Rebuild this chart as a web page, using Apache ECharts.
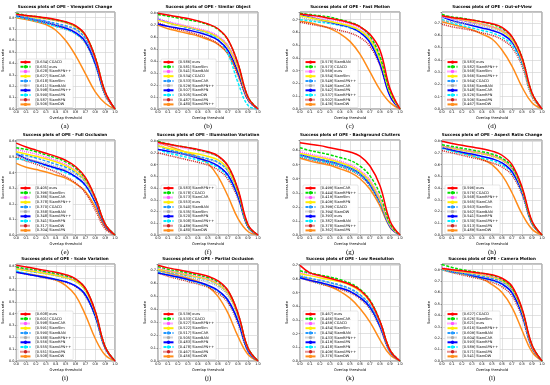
<!DOCTYPE html>
<html><head><meta charset="utf-8">
<script src="https://cdn.jsdelivr.net/npm/echarts@6/dist/echarts.min.js"></script>
<style>html,body{margin:0;padding:0;background:#fff}#c{width:550px;height:385px}</style>
</head><body><div id="c"></div>
<script>
const thresholds = [0,0.1,0.2,0.3,0.4,0.5,0.6,0.7,0.8,0.9,1.0];
const panelTitles = ['Success plots of OPE - Viewpoint Change','Success plots of OPE - Similar Object','Success plots of OPE - Fast Motion','Success plots of OPE - Out-of-View','Success plots of OPE - Full Occlusion','Success plots of OPE - Illumination Variation','Success plots of OPE - Background Clutters','Success plots of OPE - Aspect Ratio Change','Success plots of OPE - Scale Variation','Success plots of OPE - Partial Occlusion','Success plots of OPE - Low Resolution','Success plots of OPE - Camera Motion'];
const panelLetters = ['(a)','(b)','(c)','(d)','(e)','(f)','(g)','(h)','(i)','(j)','(k)','(l)'];
const yMaxima = [0.85,0.81,0.76,0.79,0.61,0.81,0.675,0.81,0.82,0.75,0.71,0.85];

// (a) Viewpoint Change
const trackersA = ['CGACD','ours','SiamRPN++','SiamCAR','SiamSim','SiamBAN','SiamAPN++','SiamAPN','SiamRPN','SiamDW'];
const aucA = [0.634,0.631,0.628,0.627,0.618,0.611,0.598,0.590,0.587,0.506];
const curvesA = [
[0.83,0.82,0.81,0.80,0.785,0.765,0.73,0.65,0.45,0.15,0],
[0.84,0.82,0.81,0.795,0.78,0.76,0.725,0.645,0.45,0.15,0],
[0.83,0.815,0.805,0.79,0.775,0.755,0.72,0.64,0.44,0.15,0],
[0.83,0.815,0.80,0.79,0.775,0.755,0.72,0.645,0.45,0.14,0],
[0.82,0.80,0.785,0.77,0.75,0.73,0.70,0.62,0.43,0.14,0],
[0.83,0.80,0.78,0.76,0.74,0.72,0.69,0.61,0.42,0.14,0],
[0.82,0.80,0.78,0.76,0.735,0.71,0.67,0.59,0.40,0.13,0],
[0.81,0.79,0.77,0.75,0.725,0.70,0.66,0.58,0.39,0.13,0],
[0.82,0.79,0.77,0.75,0.725,0.70,0.66,0.575,0.39,0.12,0],
[0.80,0.785,0.765,0.74,0.69,0.60,0.47,0.31,0.15,0.05,0]];

// (b) Similar Object
const trackersB = ['ours','SiamSim','SiamBAN','CGACD','SiamCAR','SiamRPN++','SiamRPN','SiamDW','SiamAPN','SiamAPN++'];
const aucB = [0.586,0.581,0.541,0.534,0.533,0.529,0.507,0.505,0.487,0.480];
const curvesB = [
[0.80,0.785,0.77,0.755,0.735,0.71,0.67,0.58,0.38,0.10,0],
[0.79,0.775,0.76,0.745,0.73,0.705,0.665,0.575,0.375,0.10,0],
[0.75,0.73,0.71,0.69,0.67,0.65,0.61,0.53,0.35,0.09,0],
[0.74,0.72,0.70,0.685,0.665,0.64,0.60,0.52,0.34,0.09,0],
[0.75,0.72,0.70,0.68,0.66,0.64,0.60,0.52,0.34,0.09,0],
[0.76,0.72,0.70,0.68,0.655,0.635,0.595,0.515,0.335,0.09,0],
[0.71,0.69,0.675,0.66,0.64,0.615,0.575,0.49,0.31,0.08,0],
[0.75,0.725,0.70,0.68,0.66,0.63,0.58,0.46,0.22,0.03,0],
[0.72,0.69,0.665,0.645,0.62,0.59,0.545,0.46,0.28,0.075,0],
[0.70,0.67,0.65,0.63,0.61,0.58,0.54,0.46,0.29,0.08,0]];

// (c) Fast Motion
const trackersC = ['SiamBAN','CGACD','ours','SiamSim','SiamAPN++','SiamCAR','SiamAPN','SiamRPN++','SiamRPN','SiamDW'];
const aucC = [0.578,0.573,0.569,0.554,0.549,0.549,0.542,0.537,0.502,0.436];
const curvesC = [
[0.745,0.735,0.725,0.71,0.695,0.675,0.645,0.585,0.46,0.16,0],
[0.75,0.74,0.73,0.72,0.70,0.68,0.645,0.57,0.41,0.14,0],
[0.75,0.73,0.71,0.70,0.685,0.665,0.63,0.565,0.42,0.15,0],
[0.73,0.715,0.70,0.685,0.67,0.65,0.615,0.545,0.39,0.13,0],
[0.74,0.72,0.70,0.685,0.665,0.645,0.61,0.54,0.385,0.13,0],
[0.72,0.70,0.69,0.68,0.665,0.645,0.615,0.545,0.39,0.13,0],
[0.74,0.72,0.70,0.68,0.66,0.64,0.60,0.52,0.35,0.10,0],
[0.70,0.69,0.68,0.67,0.655,0.635,0.60,0.53,0.38,0.13,0],
[0.68,0.665,0.65,0.635,0.615,0.595,0.56,0.49,0.34,0.11,0],
[0.69,0.675,0.655,0.63,0.59,0.53,0.43,0.29,0.15,0.05,0]];

// (d) Out-of-View
const trackersD = ['ours','SiamRPN++','SiamSim','SiamAPN++','CGACD','SiamBAN','SiamCAR','SiamRPN','SiamAPN','SiamDW'];
const aucD = [0.583,0.582,0.568,0.566,0.564,0.556,0.548,0.526,0.506,0.467];
const curvesD = [
[0.76,0.745,0.735,0.725,0.71,0.695,0.665,0.59,0.42,0.13,0],
[0.77,0.75,0.74,0.725,0.71,0.69,0.655,0.585,0.42,0.13,0],
[0.75,0.735,0.72,0.705,0.69,0.67,0.64,0.575,0.41,0.13,0],
[0.76,0.74,0.725,0.71,0.69,0.67,0.635,0.565,0.40,0.12,0],
[0.75,0.735,0.72,0.705,0.69,0.67,0.635,0.565,0.40,0.12,0],
[0.72,0.71,0.70,0.69,0.675,0.655,0.625,0.56,0.40,0.12,0],
[0.75,0.72,0.70,0.68,0.66,0.64,0.61,0.545,0.39,0.12,0],
[0.73,0.70,0.68,0.66,0.64,0.62,0.585,0.52,0.37,0.11,0],
[0.69,0.67,0.655,0.64,0.62,0.60,0.565,0.50,0.35,0.10,0],
[0.71,0.69,0.67,0.645,0.61,0.57,0.48,0.35,0.18,0.05,0]];

// (e) Full Occlusion
const trackersE = ['ours','SiamSim','SiamCAR','SiamRPN++','CGACD','SiamBAN','SiamAPN++','SiamRPN','SiamDW','SiamAPN'];
const aucE = [0.405,0.396,0.386,0.378,0.370,0.358,0.348,0.341,0.317,0.304];
const curvesE = [
[0.59,0.565,0.545,0.525,0.505,0.48,0.44,0.37,0.24,0.07,0],
[0.56,0.55,0.535,0.515,0.495,0.47,0.43,0.36,0.24,0.07,0],
[0.55,0.535,0.52,0.50,0.48,0.455,0.42,0.355,0.235,0.07,0],
[0.535,0.52,0.505,0.49,0.47,0.445,0.41,0.35,0.235,0.07,0],
[0.52,0.51,0.495,0.475,0.455,0.435,0.40,0.345,0.23,0.07,0],
[0.51,0.49,0.475,0.46,0.44,0.42,0.39,0.335,0.22,0.065,0],
[0.52,0.49,0.47,0.45,0.43,0.41,0.375,0.32,0.21,0.06,0],
[0.49,0.48,0.465,0.445,0.425,0.40,0.37,0.315,0.205,0.06,0],
[0.50,0.475,0.455,0.43,0.405,0.375,0.335,0.27,0.16,0.04,0],
[0.46,0.435,0.42,0.405,0.385,0.365,0.33,0.28,0.18,0.05,0]];

// (f) Illumination Variation
const trackersF = ['SiamRPN++','CGACD','SiamCAR','ours','SiamBAN','SiamSim','SiamRPN','SiamAPN++','SiamAPN','SiamDW'];
const aucF = [0.583,0.578,0.573,0.553,0.540,0.535,0.520,0.508,0.489,0.480];
const curvesF = [
[0.79,0.775,0.76,0.745,0.73,0.71,0.675,0.59,0.39,0.09,0],
[0.80,0.775,0.76,0.745,0.725,0.705,0.67,0.585,0.38,0.08,0],
[0.78,0.765,0.75,0.735,0.72,0.70,0.665,0.58,0.38,0.08,0],
[0.76,0.74,0.72,0.705,0.69,0.67,0.64,0.56,0.37,0.08,0],
[0.76,0.73,0.71,0.69,0.67,0.65,0.62,0.545,0.36,0.08,0],
[0.78,0.73,0.70,0.68,0.665,0.645,0.615,0.54,0.355,0.08,0],
[0.73,0.715,0.70,0.68,0.655,0.63,0.59,0.51,0.33,0.07,0],
[0.73,0.70,0.68,0.66,0.64,0.615,0.575,0.495,0.325,0.07,0],
[0.70,0.68,0.66,0.64,0.62,0.595,0.555,0.475,0.31,0.07,0],
[0.79,0.76,0.73,0.70,0.665,0.61,0.50,0.33,0.14,0.03,0]];

// (g) Background Clutters
const trackersG = ['SiamCAR','SiamRPN++','SiamSim','SiamRPN','CGACD','SiamDW','ours','SiamBAN','SiamAPN++','SiamAPN'];
const aucG = [0.499,0.444,0.419,0.409,0.399,0.394,0.393,0.382,0.378,0.362];
const curvesG = [
[0.655,0.645,0.635,0.62,0.605,0.59,0.56,0.49,0.35,0.10,0],
[0.62,0.60,0.585,0.57,0.55,0.53,0.49,0.42,0.29,0.08,0],
[0.59,0.575,0.56,0.545,0.525,0.50,0.46,0.39,0.26,0.07,0],
[0.58,0.565,0.55,0.535,0.515,0.49,0.45,0.38,0.25,0.07,0],
[0.575,0.555,0.54,0.525,0.505,0.48,0.44,0.37,0.24,0.065,0],
[0.57,0.55,0.535,0.52,0.50,0.475,0.435,0.365,0.235,0.065,0],
[0.57,0.55,0.535,0.52,0.50,0.475,0.435,0.36,0.235,0.06,0],
[0.56,0.54,0.525,0.51,0.49,0.465,0.425,0.35,0.225,0.06,0],
[0.555,0.535,0.52,0.505,0.485,0.46,0.42,0.345,0.22,0.06,0],
[0.545,0.525,0.51,0.495,0.47,0.445,0.40,0.325,0.205,0.055,0]];

// (h) Aspect Ratio Change
const trackersH = ['ours','CGACD','SiamRPN++','SiamCAR','SiamSim','SiamBAN','SiamRPN','SiamAPN++','SiamAPN','SiamDW'];
const aucH = [0.596,0.576,0.568,0.565,0.563,0.562,0.541,0.530,0.513,0.489];
const curvesH = [
[0.80,0.78,0.765,0.75,0.735,0.715,0.68,0.60,0.41,0.12,0],
[0.77,0.755,0.74,0.725,0.71,0.69,0.655,0.58,0.395,0.11,0],
[0.76,0.745,0.73,0.715,0.70,0.68,0.645,0.57,0.39,0.11,0],
[0.76,0.74,0.725,0.71,0.695,0.675,0.64,0.57,0.39,0.11,0],
[0.76,0.74,0.725,0.71,0.695,0.675,0.64,0.565,0.385,0.11,0],
[0.75,0.735,0.72,0.705,0.69,0.67,0.64,0.565,0.39,0.11,0],
[0.745,0.725,0.705,0.69,0.67,0.65,0.615,0.54,0.37,0.10,0],
[0.74,0.715,0.695,0.675,0.655,0.635,0.60,0.53,0.36,0.10,0],
[0.72,0.70,0.68,0.66,0.64,0.615,0.58,0.51,0.345,0.095,0],
[0.745,0.72,0.70,0.675,0.645,0.60,0.51,0.36,0.18,0.05,0]];

// (i) Scale Variation
const trackersI = ['ours','CGACD','SiamCAR','SiamSim','SiamBAN','SiamRPN++','SiamRPN','SiamAPN++','SiamAPN','SiamDW'];
const aucI = [0.608,0.601,0.598,0.591,0.590,0.588,0.556,0.555,0.551,0.508];
const curvesI = [
[0.81,0.795,0.78,0.765,0.75,0.73,0.695,0.615,0.42,0.12,0],
[0.795,0.78,0.77,0.755,0.74,0.72,0.69,0.61,0.415,0.12,0],
[0.79,0.775,0.765,0.75,0.735,0.715,0.685,0.61,0.415,0.12,0],
[0.78,0.765,0.755,0.74,0.725,0.705,0.675,0.60,0.41,0.12,0],
[0.78,0.765,0.75,0.74,0.725,0.705,0.675,0.60,0.41,0.12,0],
[0.79,0.765,0.75,0.735,0.72,0.70,0.67,0.595,0.405,0.12,0],
[0.75,0.735,0.72,0.705,0.69,0.67,0.635,0.56,0.38,0.11,0],
[0.76,0.74,0.72,0.705,0.69,0.67,0.635,0.555,0.375,0.11,0],
[0.755,0.735,0.72,0.70,0.685,0.665,0.63,0.55,0.375,0.105,0],
[0.755,0.74,0.725,0.71,0.685,0.64,0.555,0.39,0.19,0.05,0]];

// (j) Partial Occlusion
const trackersJ = ['ours','CGACD','SiamRPN++','SiamSim','SiamCAR','SiamBAN','SiamRPN','SiamAPN++','SiamAPN','SiamDW'];
const aucJ = [0.539,0.533,0.527,0.522,0.517,0.505,0.483,0.478,0.467,0.456];
const curvesJ = [
[0.74,0.72,0.705,0.69,0.675,0.655,0.62,0.545,0.37,0.10,0],
[0.73,0.71,0.695,0.68,0.665,0.645,0.61,0.54,0.365,0.10,0],
[0.72,0.70,0.685,0.67,0.655,0.635,0.60,0.53,0.36,0.10,0],
[0.71,0.695,0.68,0.665,0.65,0.63,0.595,0.525,0.355,0.10,0],
[0.71,0.69,0.675,0.66,0.645,0.625,0.59,0.52,0.35,0.095,0],
[0.70,0.68,0.665,0.65,0.63,0.61,0.575,0.505,0.34,0.09,0],
[0.68,0.665,0.65,0.63,0.61,0.585,0.545,0.47,0.31,0.08,0],
[0.69,0.665,0.645,0.625,0.605,0.58,0.54,0.465,0.305,0.08,0],
[0.68,0.655,0.635,0.615,0.595,0.57,0.525,0.45,0.29,0.075,0],
[0.70,0.68,0.66,0.64,0.615,0.575,0.50,0.37,0.19,0.05,0]];

// (k) Low Resolution
const trackersK = ['ours','SiamCAR','CGACD','SiamSim','SiamBAN','SiamRPN++','SiamAPN','SiamRPN','SiamAPN++','SiamDW'];
const aucK = [0.467,0.466,0.459,0.454,0.434,0.433,0.419,0.418,0.409,0.376];
const curvesK = [
[0.70,0.645,0.625,0.605,0.585,0.56,0.52,0.44,0.29,0.08,0],
[0.66,0.645,0.63,0.615,0.595,0.57,0.525,0.445,0.29,0.08,0],
[0.65,0.635,0.62,0.605,0.585,0.56,0.515,0.44,0.285,0.08,0],
[0.64,0.625,0.61,0.595,0.58,0.555,0.51,0.435,0.285,0.08,0],
[0.62,0.605,0.59,0.575,0.555,0.53,0.485,0.41,0.27,0.075,0],
[0.63,0.605,0.59,0.57,0.55,0.525,0.48,0.41,0.27,0.075,0],
[0.61,0.59,0.575,0.555,0.535,0.51,0.465,0.395,0.255,0.07,0],
[0.61,0.59,0.57,0.555,0.535,0.51,0.465,0.39,0.255,0.07,0],
[0.61,0.585,0.565,0.545,0.525,0.50,0.455,0.38,0.245,0.065,0],
[0.62,0.595,0.57,0.545,0.51,0.46,0.385,0.285,0.155,0.045,0]];

// (l) Camera Motion
const trackersL = ['CGACD','SiamSim','ours','SiamRPN++','SiamBAN','SiamCAR','SiamRPN','SiamAPN++','SiamAPN','SiamDW'];
const aucL = [0.627,0.626,0.621,0.616,0.609,0.604,0.593,0.589,0.571,0.541];
const curvesL = [
[0.81,0.80,0.79,0.78,0.77,0.755,0.725,0.655,0.46,0.14,0],
[0.845,0.82,0.80,0.785,0.77,0.75,0.715,0.64,0.45,0.14,0],
[0.82,0.80,0.785,0.775,0.76,0.74,0.71,0.64,0.445,0.135,0],
[0.81,0.795,0.78,0.77,0.755,0.735,0.705,0.635,0.44,0.13,0],
[0.81,0.79,0.775,0.76,0.745,0.725,0.695,0.625,0.435,0.13,0],
[0.80,0.785,0.77,0.755,0.74,0.72,0.69,0.62,0.43,0.13,0],
[0.81,0.785,0.77,0.75,0.73,0.71,0.675,0.60,0.41,0.12,0],
[0.80,0.78,0.765,0.745,0.725,0.705,0.67,0.595,0.405,0.12,0],
[0.80,0.775,0.755,0.735,0.715,0.69,0.65,0.57,0.385,0.11,0],
[0.80,0.78,0.765,0.745,0.72,0.67,0.60,0.47,0.27,0.08,0]];

const panelTrackers = [trackersA,trackersB,trackersC,trackersD,trackersE,trackersF,trackersG,trackersH,trackersI,trackersJ,trackersK,trackersL];
const panelAuc = [aucA,aucB,aucC,aucD,aucE,aucF,aucG,aucH,aucI,aucJ,aucK,aucL];
const panelCurves = [curvesA,curvesB,curvesC,curvesD,curvesE,curvesF,curvesG,curvesH,curvesI,curvesJ,curvesK,curvesL];

// layout & styles
const colLeft = [15,158,300,442];
const rowTop = [12,140,264];
const plotW = 100;
const plotH = [97,95,97];
const lineColors = ['#ff0000','#00dd00','#ff55ff','#ffee00','#2299ff','#aaaaaa','#0000ff','#00eeff','#cc2222','#ff8c1a'];
const lineTypes = ['solid',[3,1.5],[1,1],'solid',[3,1.5],[1,1],'solid',[3,1.5],[1,1],'solid'];
const FONT = 'DejaVu Sans';

const grids=[],xAxes=[],yAxes=[],series=[],legends=[],graphics=[];
const usedNames = new Set();
panelTitles.forEach((title,p)=>{
  const r = Math.floor(p/4), c = p%4;
  const left = colLeft[c], top = rowTop[r], h = plotH[r];
  grids.push({left:left, top:top, width:plotW, height:h, show:true, borderColor:'#444', borderWidth:0.7, backgroundColor:'#fff'});
  xAxes.push({type:'value', gridIndex:p, min:0, max:1, interval:0.1,
    name:'Overlap threshold', nameLocation:'middle', nameGap:7.5,
    nameTextStyle:{fontSize:3.6, fontFamily:FONT, color:'#000'},
    axisLine:{show:false}, axisTick:{show:true,length:1.5,lineStyle:{color:'#444',width:0.5}},
    axisLabel:{fontSize:3.4, fontFamily:FONT, color:'#000', margin:2, formatter:v=>v.toFixed(1)},
    splitLine:{show:true, lineStyle:{color:'#cfcfcf', width:0.6}}});
  yAxes.push({type:'value', gridIndex:p, min:0, max:yMaxima[p], interval:0.1,
    name:'Success rate', nameLocation:'middle', nameGap:10,
    nameTextStyle:{fontSize:3.6, fontFamily:FONT, color:'#000'},
    axisLine:{show:false}, axisTick:{show:true,length:1.5,lineStyle:{color:'#444',width:0.5}},
    axisLabel:{fontSize:3.4, fontFamily:FONT, color:'#000', margin:2, showMaxLabel:true,
      formatter:v=>{const k=v/0.1; return Math.abs(k-Math.round(k))<1e-6 ? v.toFixed(1) : '';}},
    splitLine:{show:true, lineStyle:{color:'#cfcfcf', width:0.6}}});
  const names=[];
  panelTrackers[p].forEach((tr,i)=>{
    let nm = '['+panelAuc[p][i].toFixed(3)+'] '+tr;
    while(usedNames.has(nm)) nm += '\u200b';
    usedNames.add(nm); names.push(nm);
    series.push({type:'line', name:nm, xAxisIndex:p, yAxisIndex:p,
      data: thresholds.map((x,k)=>[x, panelCurves[p][i][k]]),
      symbol:'none', smooth:0.4, silent:true, z: 20-i,
      lineStyle:{color:lineColors[i], width:1.5, type:lineTypes[i]},
      itemStyle:{color:lineColors[i]}});
  });
  legends.push({orient:'vertical', left:left+3, bottom:385-(top+h)+1.5, data:names,
    itemWidth:10, itemHeight:4.2, itemGap:0.5, padding:[1,2,1,1.5],
    backgroundColor:'rgba(255,255,255,0.9)', borderColor:'#cccccc', borderWidth:0.5, borderRadius:1,
    selectedMode:false, textStyle:{fontSize:3.5, fontFamily:FONT, color:'#000', lineHeight:4.2}});
  graphics.push({type:'text', x:left+plotW/2, y:top-5.5, style:{text:title, font:'bold 4.1px "DejaVu Sans"', fill:'#000', textAlign:'center', textVerticalAlign:'middle'}});
  graphics.push({type:'text', x:left+plotW/2, y:top+h+17, style:{text:panelLetters[p], font:'7px "Liberation Serif"', fill:'#000', textAlign:'center', textVerticalAlign:'middle'}});
});

const chart = echarts.init(document.getElementById('c'));
chart.setOption({animation:false, backgroundColor:'#fff', grid:grids, xAxis:xAxes, yAxis:yAxes, series:series, legend:legends, graphic:graphics});
</script></body></html>
